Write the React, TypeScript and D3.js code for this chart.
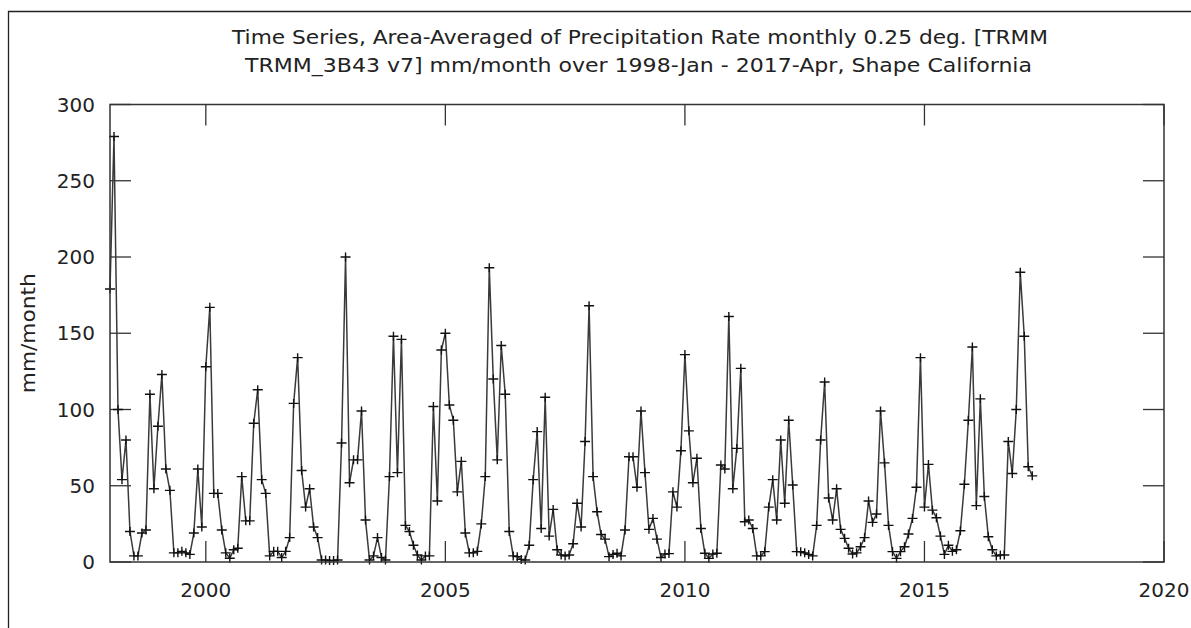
import React from "react";
import * as d3 from "d3";

const titleLines = [
  "Time Series, Area-Averaged of Precipitation Rate monthly 0.25 deg. [TRMM",
  "TRMM_3B43 v7] mm/month over 1998-Jan - 2017-Apr, Shape California",
];
const yAxisLabel = "mm/month";

const startYear = 1998;
// Monthly values, 1998-Jan .. 2017-Apr (mm/month)
const values1998 = [179, 279, 100, 54, 80, 20, 4, 4, 19, 21, 110, 48];
const values1999 = [89, 123, 61, 47, 6, 6, 7, 6, 5, 19, 61, 23];
const values2000 = [128, 167, 45, 45, 21, 6, 2.5, 8, 9, 56, 27, 27];
const values2001 = [91, 113, 54, 45, 4, 7, 7, 3, 7, 16, 104, 134];
const values2002 = [60, 36, 48, 23, 16, 1.3, 1.3, 1, 1, 1.3, 78, 200];
const values2003 = [52, 67, 67, 99, 27.5, 1.3, 4, 16, 3, 1.3, 56, 148];
const values2004 = [58.6, 146, 24, 20, 11, 4.6, 1.3, 4, 4, 102, 40, 139];
const values2005 = [150, 103, 93, 46, 66, 19, 6, 6, 7, 25, 56, 193];
const values2006 = [120, 67, 142, 110, 20, 4, 3.5, 1.7, 1.3, 11, 54, 85.5];
const values2007 = [22, 108, 17, 34.5, 8, 4.6, 4, 4.6, 12, 38.5, 23, 79];
const values2008 = [168, 56, 33, 18, 15, 3.5, 5, 5.7, 4, 21, 69, 69];
const values2009 = [49, 99, 58.6, 21.4, 28.6, 15, 3, 5.2, 5.5, 46, 36, 73];
const values2010 = [136, 86, 52, 68, 22, 5.7, 2.4, 5.2, 5.7, 63.6, 61, 161];
const values2011 = [48, 74.5, 127, 26.4, 27.5, 22, 4, 4, 6.8, 36, 54, 27.5];
const values2012 = [80, 38.5, 93, 50.5, 6.8, 6.8, 6, 5, 4, 24, 80, 118];
const values2013 = [42, 27.5, 48, 21.4, 15.5, 9, 5.2, 6, 10, 16, 40, 26];
const values2014 = [31.5, 99, 65, 24, 6.8, 2.4, 6.8, 10, 18.4, 28.6, 49, 134];
const values2015 = [36, 64, 34, 29, 17, 5, 11, 7, 8, 20.5, 51, 93];
const values2016 = [141, 37, 107, 43, 16.6, 8, 4, 4.6, 4.6, 79, 58, 100];
const values2017 = [190, 148, 62.5, 56.5];

const monthlyPrecip = [
  ...values1998, ...values1999, ...values2000, ...values2001, ...values2002,
  ...values2003, ...values2004, ...values2005, ...values2006, ...values2007,
  ...values2008, ...values2009, ...values2010, ...values2011, ...values2012,
  ...values2013, ...values2014, ...values2015, ...values2016, ...values2017,
];

const xDomain = [1998, 2020];
const yDomain = [0, 300];
const xTickYears = [2000, 2005, 2010, 2015, 2020];
const yTickValues = [0, 50, 100, 150, 200, 250, 300];

export default function App() {
  const W = 1191;
  const H = 628;
  const left = 110;
  const right = 1164;
  const top = 104.5;
  const bottom = 562;
  const tickLen = 21;

  const x = d3.scaleLinear().domain(xDomain).range([left, right]);
  const y = d3.scaleLinear().domain(yDomain).range([bottom, top]);

  const pts: [number, number][] = monthlyPrecip.map((v, i) => [startYear + i / 12, v]);
  const linePath = d3
    .line<[number, number]>()
    .x((d) => x(d[0]))
    .y((d) => y(d[1]))(pts) as string;

  const crossPath = pts
    .map((d) => {
      const cx = x(d[0]);
      const cy = y(d[1]);
      return `M${cx - 5},${cy}H${cx + 5}M${cx},${cy - 4.5}V${cy + 4.5}`;
    })
    .join("");

  const font = "'DejaVu Sans', sans-serif";
  const axisColor = "#333";

  return (
    <svg
      width={W}
      height={H}
      style={{ position: "absolute", left: 0, top: 0, background: "#fff" }}
    >
      <rect x={0} y={0} width={W} height={H} fill="#fff" />
      {/* outer frame */}
      <path d={`M8.5,${H + 5}V11.5H${W + 5}`} fill="none" stroke="#222" strokeWidth={1.3} />

      {/* title */}
      <text
        x={640}
        y={44}
        textAnchor="middle"
        fontFamily={font}
        fontSize={20}
        fill="#222"
        textLength={816}
        lengthAdjust="spacingAndGlyphs"
      >
        {titleLines[0]}
      </text>
      <text
        x={638.5}
        y={72}
        textAnchor="middle"
        fontFamily={font}
        fontSize={20}
        fill="#222"
        textLength={787}
        lengthAdjust="spacingAndGlyphs"
      >
        {titleLines[1]}
      </text>

      {/* y axis label */}
      <text
        transform={`translate(35,${(top + bottom) / 2}) rotate(-90)`}
        textAnchor="middle"
        fontFamily={font}
        fontSize={19}
        fill="#222"
        textLength={120}
        lengthAdjust="spacingAndGlyphs"
      >
        {yAxisLabel}
      </text>

      {/* y ticks and labels */}
      {yTickValues.map((v) => (
        <g key={`y${v}`}>
          <line x1={left} x2={left + tickLen} y1={y(v)} y2={y(v)} stroke={axisColor} strokeWidth={1.3} />
          <line x1={right} x2={right - tickLen} y1={y(v)} y2={y(v)} stroke={axisColor} strokeWidth={1.3} />
          <text
            x={95}
            y={y(v)}
            dy="0.36em"
            textAnchor="end"
            fontFamily={font}
            fontSize={20}
            fill="#222"
          >
            {v}
          </text>
        </g>
      ))}

      {/* x ticks and labels */}
      {xTickYears.map((t) => (
        <g key={`x${t}`}>
          <line x1={x(t)} x2={x(t)} y1={bottom} y2={bottom - tickLen} stroke={axisColor} strokeWidth={1.3} />
          <line x1={x(t)} x2={x(t)} y1={top} y2={top + tickLen} stroke={axisColor} strokeWidth={1.3} />
          <text
            x={x(t)}
            y={597}
            textAnchor="middle"
            fontFamily={font}
            fontSize={20}
            fill="#222"
          >
            {t}
          </text>
        </g>
      ))}

      {/* data */}
      <path d={linePath} fill="none" stroke="#3a3a3a" strokeWidth={1.5} strokeLinejoin="round" />
      <path d={crossPath} fill="none" stroke="#111" strokeWidth={1.4} />

      {/* plot frame */}
      <rect
        x={left}
        y={top}
        width={right - left}
        height={bottom - top}
        fill="none"
        stroke={axisColor}
        strokeWidth={1.5}
      />
    </svg>
  );
}
